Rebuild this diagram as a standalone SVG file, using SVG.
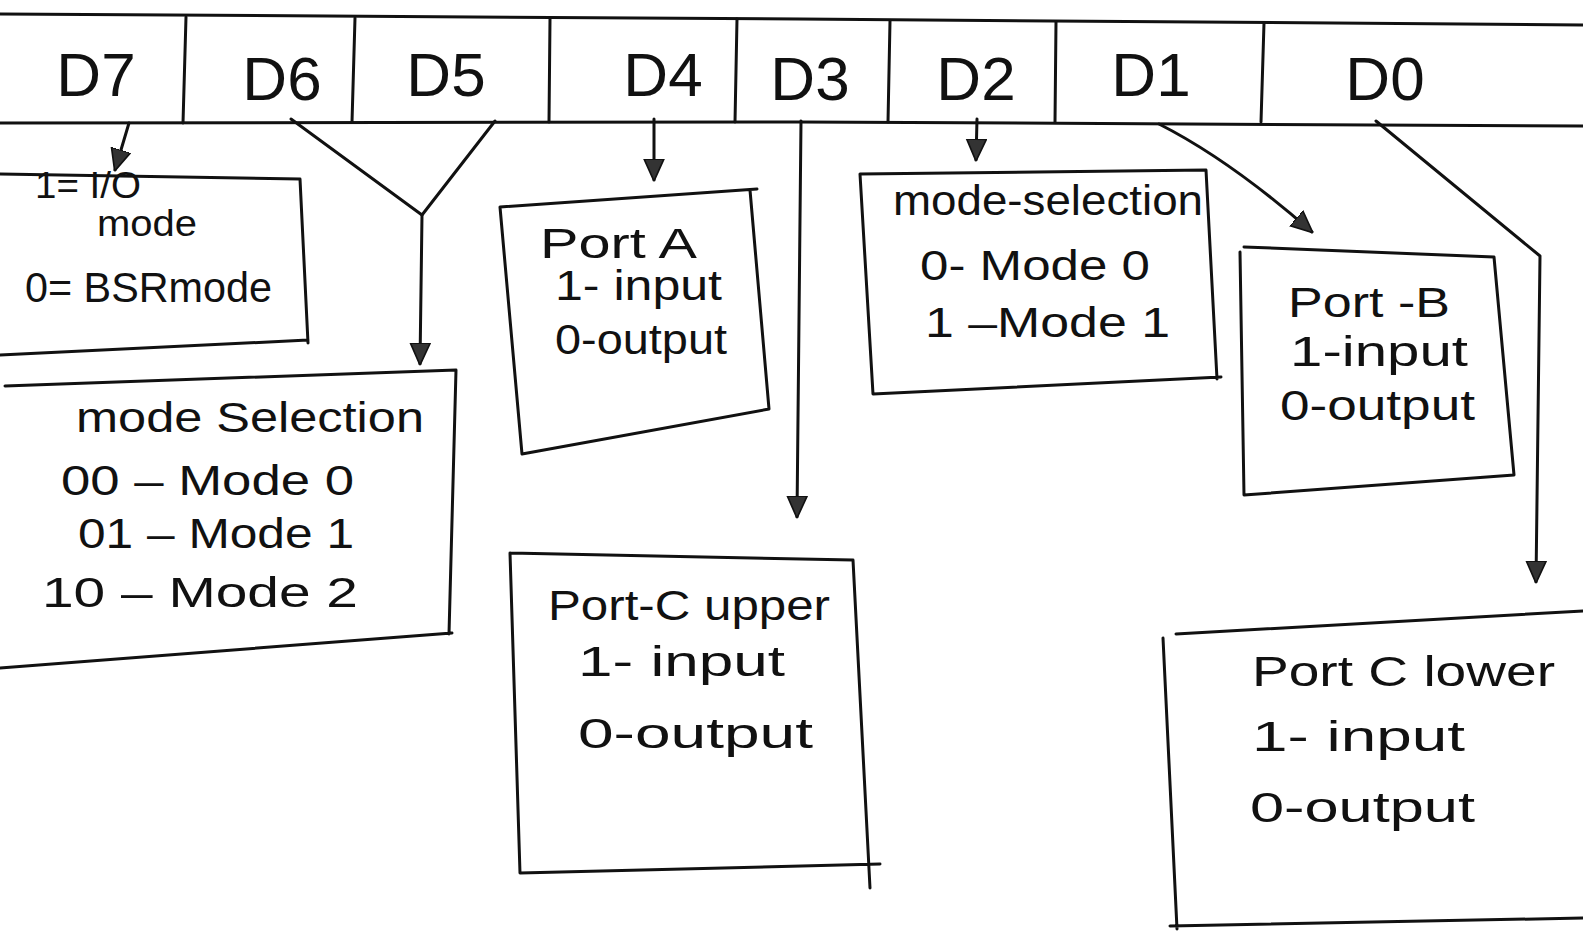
<svg xmlns="http://www.w3.org/2000/svg" width="1583" height="936" viewBox="0 0 1583 936">
<defs>
<style>
.ln{fill:none;stroke:#111;stroke-width:3;stroke-linecap:round;stroke-linejoin:round}
.hd{font-family:"Liberation Sans",Arial,sans-serif;font-size:62px;fill:#111;text-anchor:middle}
.tx{font-family:"Liberation Sans",Arial,sans-serif;font-size:42px;fill:#111}
.sm{font-size:37px}
</style>
<marker id="ah" viewBox="0 0 20 20" refX="19" refY="10" markerWidth="22" markerHeight="22" markerUnits="userSpaceOnUse" orient="auto">
<path d="M0,1 L20,10 L0,19 z" fill="#333" stroke="#111" stroke-width="1.5"/>
</marker>
</defs>
<rect width="1583" height="936" fill="#fff"/>
<g id="register">
<path class="ln" d="M0,14 L800,19 L1583,25"/>
<path class="ln" d="M0,123 L800,122 L1583,126"/>
<path class="ln" d="M186,17 L183,123 M355,18 L352,122 M550,19 L549,122 M737,19 L735,122 M890,21 L888,122 M1056,22 L1055,122 M1264,23 L1261,122"/>
<text class="hd" x="96" y="96">D7</text>
<text class="hd" x="282" y="100">D6</text>
<text class="hd" x="446" y="96">D5</text>
<text class="hd" x="663" y="96">D4</text>
<text class="hd" x="810" y="100">D3</text>
<text class="hd" x="976" y="100">D2</text>
<text class="hd" x="1151" y="96">D1</text>
<text class="hd" x="1385" y="100">D0</text>
</g>
<g id="connectors">
<path class="ln" d="M129,123 L115,170" marker-end="url(#ah)"/>
<path class="ln" d="M291,119 L422,215 M495,121 L422,215"/>
<path class="ln" d="M422,215 L420,364" marker-end="url(#ah)"/>
<path class="ln" d="M654,119 L654,180" marker-end="url(#ah)"/>
<path class="ln" d="M801,121 L797,517" marker-end="url(#ah)"/>
<path class="ln" d="M977,119 L976,160" marker-end="url(#ah)"/>
<path class="ln" d="M1159,124 Q1230,160 1312,232" marker-end="url(#ah)"/>
<path class="ln" d="M1376,121 Q1460,190 1540,256 L1536,582" marker-end="url(#ah)"/>
</g>
<g id="box-d7">
<path class="ln" d="M0,174 L300,179 L308,343 M308,340 L0,355"/>
<text class="tx sm" x="35" y="198" textLength="106" lengthAdjust="spacingAndGlyphs">1= I/O</text>
<text class="tx sm" x="97" y="236" textLength="100" lengthAdjust="spacingAndGlyphs">mode</text>
<text class="tx" x="25" y="302" textLength="247" lengthAdjust="spacingAndGlyphs">0= BSRmode</text>
</g>
<g id="box-d6d5">
<path class="ln" d="M5,386 L456,370 L449,634 M452,633 L0,668"/>
<text class="tx" x="76" y="432" textLength="348" lengthAdjust="spacingAndGlyphs">mode Selection</text>
<text class="tx" x="61" y="495" textLength="293" lengthAdjust="spacingAndGlyphs">00 – Mode 0</text>
<text class="tx" x="78" y="548" textLength="276" lengthAdjust="spacingAndGlyphs">01 – Mode 1</text>
<text class="tx" x="42" y="607" textLength="316" lengthAdjust="spacingAndGlyphs">10 – Mode 2</text>
</g>
<g id="box-d4">
<path class="ln" d="M500,207 L757,189 M750,190 L769,409 L522,454 L500,207"/>
<text class="tx" x="540" y="258" textLength="157" lengthAdjust="spacingAndGlyphs">Port A</text>
<text class="tx" x="555" y="300" textLength="167" lengthAdjust="spacingAndGlyphs">1- input</text>
<text class="tx" x="555" y="354" textLength="172" lengthAdjust="spacingAndGlyphs">0-output</text>
</g>
<g id="box-d3">
<path class="ln" d="M510,553 L853,560 L870,888 M880,864 L520,873 L510,553"/>
<text class="tx" x="548" y="620" textLength="282" lengthAdjust="spacingAndGlyphs">Port-C upper</text>
<text class="tx" x="578" y="676" textLength="207" lengthAdjust="spacingAndGlyphs">1- input</text>
<text class="tx" x="578" y="748" textLength="235" lengthAdjust="spacingAndGlyphs">0-output</text>
</g>
<g id="box-d2">
<path class="ln" d="M860,174 L1206,170 L1217,379 M1221,377 L873,394 L860,174"/>
<text class="tx" x="893" y="215" textLength="310" lengthAdjust="spacingAndGlyphs">mode-selection</text>
<text class="tx" x="920" y="280" textLength="230" lengthAdjust="spacingAndGlyphs">0- Mode 0</text>
<text class="tx" x="925" y="337" textLength="245" lengthAdjust="spacingAndGlyphs">1 –Mode 1</text>
</g>
<g id="box-d1">
<path class="ln" d="M1244,247 L1494,257 L1514,475 L1244,495 L1240,252"/>
<text class="tx" x="1288" y="317" textLength="162" lengthAdjust="spacingAndGlyphs">Port -B</text>
<text class="tx" x="1290" y="366" textLength="178" lengthAdjust="spacingAndGlyphs">1-input</text>
<text class="tx" x="1280" y="420" textLength="195" lengthAdjust="spacingAndGlyphs">0-output</text>
</g>
<g id="box-d0">
<path class="ln" d="M1176,634 L1583,611 M1163,638 L1177,929 M1170,926 L1583,918"/>
<text class="tx" x="1252" y="686" textLength="303" lengthAdjust="spacingAndGlyphs">Port C lower</text>
<text class="tx" x="1252" y="751" textLength="213" lengthAdjust="spacingAndGlyphs">1- input</text>
<text class="tx" x="1250" y="822" textLength="225" lengthAdjust="spacingAndGlyphs">0-output</text>
</g>
</svg>
